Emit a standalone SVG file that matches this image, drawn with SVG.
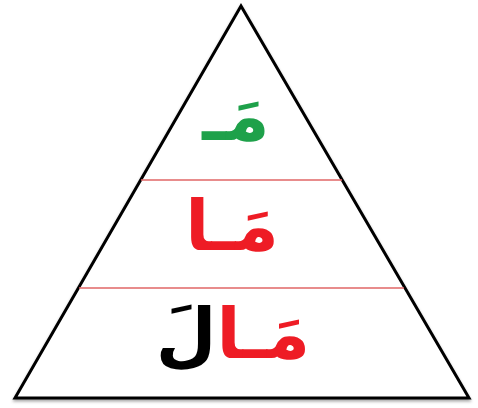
<svg xmlns="http://www.w3.org/2000/svg" width="478" height="408" viewBox="0 0 478 408">
<defs>
<style>
.ar{font-family:"DejaVu Sans",sans-serif;font-weight:bold;font-size:70px;text-anchor:middle}
.div{stroke:#e06666;stroke-width:1.5}
</style>
<filter id="sh" x="-5%" y="-5%" width="110%" height="115%">
<feDropShadow dx="0" dy="2" stdDeviation="1.5" flood-color="#000" flood-opacity="0.35"/>
</filter>
</defs>
<rect width="478" height="408" fill="#fff"/>
<g id="pyramid">
<polygon points="241,6 15,398 469,398" fill="#fff" stroke="#000" stroke-width="3" stroke-linejoin="miter" filter="url(#sh)"/>
</g>
<g id="connectors">
<line class="div" x1="141" y1="180" x2="342" y2="180"/>
<line class="div" x1="79" y1="288" x2="404" y2="288"/>
</g>
<g id="level1">
<text class="ar" x="236" y="140" fill="#1ea14a">مَـ</text>
</g>
<g id="level2">
<text class="ar" x="232" y="250" fill="#ee1c25">مَـا</text>
</g>
<g id="level3">
<text class="ar" x="233" y="358"><tspan fill="#ee1c25">مَـا</tspan><tspan fill="#000">لَ</tspan></text>
</g>
</svg>
